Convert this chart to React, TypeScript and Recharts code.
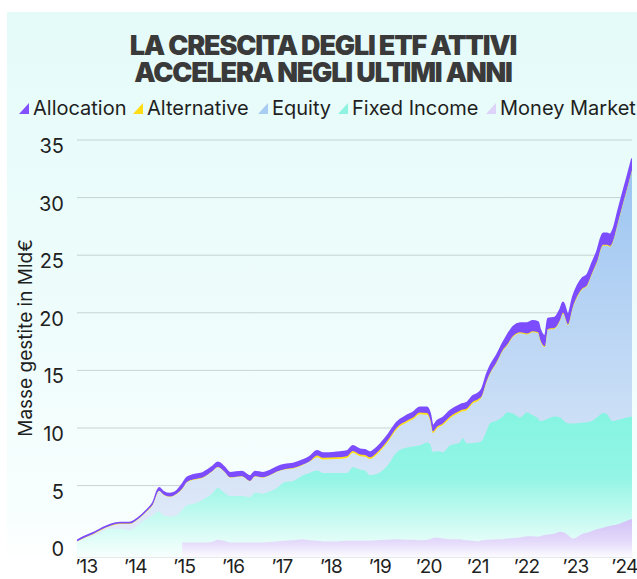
import React from 'react';
import { AreaChart, Area, XAxis, YAxis, CartesianGrid } from 'recharts';

// time in fractional years
const dates = [
  2012.95, 2013.11, 2013.28, 2013.46, 2013.62, 2013.83, 2014.03, 2014.2, 2014.38, 2014.5,
  2014.63, 2014.71, 2014.85, 2014.99, 2015.1, 2015.2, 2015.32, 2015.53, 2015.71, 2015.83,
  2015.96, 2016.08, 2016.32, 2016.49, 2016.59, 2016.75, 2016.9, 2017.04, 2017.2, 2017.37,
  2017.57, 2017.71, 2017.86, 2017.98, 2018.27, 2018.47, 2018.59, 2018.74, 2018.84, 2018.94,
  2019.08, 2019.29, 2019.49, 2019.7, 2019.82, 2019.96, 2020.11, 2020.17, 2020.23, 2020.31,
  2020.43, 2020.58, 2020.78, 2020.84, 2020.92, 2021.05, 2021.15, 2021.23, 2021.33, 2021.39,
  2021.54, 2021.66, 2021.74, 2021.87, 2022.01, 2022.15, 2022.27, 2022.38, 2022.42, 2022.52,
  2022.58, 2022.72, 2022.83, 2022.89, 2022.99, 2023.09, 2023.28, 2023.38, 2023.48, 2023.58,
  2023.71, 2023.79, 2023.85, 2023.91, 2024.01, 2024.11, 2024.2, 2024.3,
];

const moneyMarket: (number | null)[] = [
  null, null, null, null, null, null, null, null, null, null,
  null, null, null, null, 0.05, 0.05, 0.05, 0.05, 0.1, 0.3,
  0.2, 0.05, 0.05, 0.05, 0.05, 0.05, 0.1, 0.15, 0.2, 0.25,
  0.35, 0.25, 0.2, 0.15, 0.15, 0.2, 0.2, 0.2, 0.2, 0.2,
  0.25, 0.3, 0.35, 0.3, 0.3, 0.25, 0.3, 0.35, 0.45, 0.5,
  0.4, 0.35, 0.35, 0.3, 0.25, 0.2, 0.15, 0.25, 0.3, 0.3,
  0.35, 0.35, 0.4, 0.45, 0.5, 0.6, 0.6, 0.55, 0.6, 0.7,
  0.75, 0.85, 1.0, 0.95, 0.7, 0.4, 0.8, 0.9, 1.05, 1.2,
  1.35, 1.45, 1.5, 1.55, 1.65, 1.8, 1.95, 2.1,
];

const fixedIncome = [
  0.12, 0.4, 0.65, 1.0, 1.25, 1.25, 1.1, 1.6, 2.1, 2.4,
  2.75, 2.4, 2.3, 2.4, 2.85, 3.25, 3.35, 3.75, 4.2, 4.5,
  4.2, 4.05, 4.05, 3.95, 4.35, 4.25, 4.4, 4.65, 5.1, 5.15,
  5.55, 5.85, 6.1, 5.95, 5.95, 5.9, 6.4, 6.2, 6.1, 5.7,
  5.75, 6.4, 7.55, 8.0, 8.1, 8.25, 8.45, 8.25, 7.45, 7.5,
  7.5, 8.15, 8.4, 8.8, 8.4, 8.5, 8.6, 8.65, 9.5, 10.1,
  10.3, 10.65, 10.95, 10.8, 10.4, 10.75, 10.5, 10.25, 10.0, 10.0,
  10.05, 10.15, 9.9, 9.75, 9.7, 10.0, 9.65, 9.6, 9.55, 9.7,
  9.95, 9.75, 9.3, 9.05, 9.05, 9.0, 8.95, 8.9,
];

const equity = [
  0, 0.07, 0.12, 0.17, 0.22, 0.42, 0.57, 0.47, 0.67, 0.92,
  1.77, 1.82, 1.72, 1.87, 1.79, 1.99, 2.09, 1.89, 1.89, 1.79,
  1.79, 1.59, 1.69, 1.39, 1.39, 1.39, 1.39, 1.39, 1.09, 1.09,
  0.89, 0.99, 1.17, 1.17, 1.2, 1.3, 1.25, 1.15, 1.2, 1.4,
  1.7, 2.0, 2.0, 2.2, 2.35, 2.7, 2.4, 2.05, 1.65, 1.95,
  2.35, 2.35, 2.6, 2.35, 2.9, 3.45, 3.6, 3.82, 4.22, 4.22,
  5.07, 5.72, 5.77, 6.67, 7.32, 6.77, 7.22, 7.42, 7.02, 6.32,
  7.72, 7.62, 8.42, 9.22, 8.52, 10.02, 11.57, 11.82, 12.72, 13.42,
  14.52, 14.62, 14.92, 15.52, 17.02, 18.52, 19.82, 21.32,
];

const alternative = [
  0.03, 0.03, 0.03, 0.03, 0.03, 0.03, 0.03, 0.03, 0.03, 0.03,
  0.03, 0.03, 0.03, 0.03, 0.03, 0.03, 0.03, 0.03, 0.03, 0.03,
  0.03, 0.03, 0.03, 0.03, 0.03, 0.03, 0.03, 0.03, 0.03, 0.03,
  0.03, 0.03, 0.15, 0.15, 0.15, 0.15, 0.15, 0.15, 0.15, 0.15,
  0.15, 0.15, 0.15, 0.15, 0.15, 0.15, 0.15, 0.15, 0.15, 0.15,
  0.15, 0.15, 0.15, 0.15, 0.15, 0.15, 0.15, 0.08, 0.08, 0.08,
  0.08, 0.08, 0.08, 0.08, 0.08, 0.08, 0.08, 0.08, 0.08, 0.08,
  0.08, 0.08, 0.08, 0.08, 0.08, 0.08, 0.08, 0.08, 0.08, 0.08,
  0.08, 0.08, 0.08, 0.08, 0.08, 0.08, 0.08, 0.08,
];

const allocation = [
  0.1, 0.1, 0.1, 0.1, 0.1, 0.1, 0.1, 0.1, 0.1, 0.15,
  0.25, 0.25, 0.25, 0.25, 0.4, 0.4, 0.4, 0.4, 0.4, 0.4,
  0.4, 0.4, 0.4, 0.4, 0.4, 0.4, 0.4, 0.4, 0.4, 0.4,
  0.4, 0.4, 0.4, 0.4, 0.45, 0.45, 0.45, 0.45, 0.45, 0.45,
  0.45, 0.45, 0.45, 0.45, 0.45, 0.45, 0.5, 0.5, 0.5, 0.5,
  0.5, 0.5, 0.5, 0.5, 0.5, 0.5, 0.5, 0.6, 0.6, 0.6,
  0.6, 0.6, 0.8, 0.8, 0.8, 0.9, 0.9, 0.9, 0.9, 0.9,
  0.9, 0.9, 0.9, 0.9, 0.9, 0.9, 0.9, 0.9, 0.9, 0.9,
  1.0, 1.0, 1.0, 1.0, 1.0, 1.0, 1.0, 1.0,
];

const yearTicks = [2013, 2014, 2015, 2016, 2017, 2018, 2019, 2020, 2021, 2022, 2023, 2024];
const valueTicks = [0, 5, 10, 15, 20, 25, 30, 35];

const legendItems = [
  { name: 'Allocation', color: '#8350ff' },
  { name: 'Alternative', color: '#ffdc14' },
  { name: 'Equity', color: '#a9cdf2' },
  { name: 'Fixed Income', color: '#8ff3e2' },
  { name: 'Money Market', color: '#ddd2f7' },
];
const legendX = [19, 133, 258, 338, 486];

const TITLE_1 = 'LA CRESCITA DEGLI ETF ATTIVI';
const TITLE_2 = 'ACCELERA NEGLI ULTIMI ANNI';
const Y_TITLE = 'Masse gestite in Mld€';

// cumulative table drawn as layered areas down to the plot bottom
const rows = dates.map((t, i) => {
  const mm = moneyMarket[i] ?? 0;
  const fi = mm + fixedIncome[i];
  const eq = fi + equity[i];
  const alt = eq + alternative[i];
  const alloc = alt + allocation[i];
  return {
    t,
    mmTop: moneyMarket[i] === null ? null : mm,
    fiTop: fi,
    eqTop: eq,
    altTop: alt,
    allocTop: alloc,
  };
});

const FONT = 'Inter, "Noto Sans", sans-serif';

const XTick = (props: any) => {
  const { x, y, payload } = props;
  const yy = String(payload.value).slice(2);
  return (
    <text x={x + 7} y={y + 8} textAnchor="middle" fontSize={19} letterSpacing={-0.8} fill="#1f1f1f" fontFamily={FONT}>
      {'\u2019' + yy}
    </text>
  );
};

const YTick = (props: any) => {
  const { x, y, payload } = props;
  return (
    <text x={x} y={y + 13} textAnchor="end" fontSize={20} fill="#1f1f1f" fontFamily={FONT}>
      {payload.value}
    </text>
  );
};

export default function App() {
  return (
    <div style={{ position: 'absolute', left: 0, top: 0, width: 637, height: 579, background: '#ffffff', overflow: 'hidden' }}>
      <div
        style={{
          position: 'absolute',
          left: 7,
          top: 12,
          width: 630,
          height: 552,
          background: 'linear-gradient(180deg, #e5fbf9 0%, #effdfc 60%, #f8fefe 92%, #ffffff 100%)',
        }}
      />
      <div
        style={{
          position: 'absolute',
          left: 0,
          top: 32,
          width: 646,
          lineHeight: '27px',
          textAlign: 'center',
          fontFamily: FONT,
          fontWeight: 900,
          fontSize: 27,
          letterSpacing: -1.2,
          color: '#3a3a3a',
          whiteSpace: 'nowrap',
        }}
      >
        {TITLE_1}
        <br />
        {TITLE_2}
      </div>
      <div style={{ position: 'absolute', left: 0, top: 0 }}>
        <AreaChart width={637} height={579} data={rows} margin={{ top: 140, right: 5, bottom: 0, left: 17 }}>
          <defs>
            <linearGradient id="gEq" x1="0" y1="0" x2="0" y2="1">
              <stop offset="0%" stopColor="#9cc5f1" />
              <stop offset="100%" stopColor="#e6edf9" />
            </linearGradient>
            <linearGradient id="gFi" x1="0" y1="0" x2="0" y2="1">
              <stop offset="0%" stopColor="#86f4e2" />
              <stop offset="45%" stopColor="#93f5e5" />
              <stop offset="100%" stopColor="#f7fffd" />
            </linearGradient>
            <linearGradient id="gMm" x1="0" y1="0" x2="0" y2="1">
              <stop offset="0%" stopColor="#d2c1f7" />
              <stop offset="60%" stopColor="#e4dafa" />
              <stop offset="100%" stopColor="#fcfbff" />
            </linearGradient>
          </defs>
          <XAxis
            dataKey="t"
            type="number"
            domain={[2012.95, 2024.3]}
            ticks={yearTicks}
            tick={<XTick />}
            axisLine={false}
            tickLine={false}
            height={22}
            allowDataOverflow
            interval={0}
          />
          <YAxis
            type="number"
            domain={[-1.2, 35]}
            ticks={valueTicks}
            tick={<YTick />}
            axisLine={false}
            tickLine={false}
            tickSize={0}
            tickMargin={13}
            width={60}
            allowDataOverflow
            interval={0}
          />
          <Area
            type="monotone"
            dataKey="allocTop"
            baseValue="dataMin"
            stroke="#7c4dff"
            strokeWidth={1.6}
            fill="#7c4dff"
            fillOpacity={1}
            isAnimationActive={false}
            dot={false}
            activeDot={false}
          />
          <Area
            type="monotone"
            dataKey="altTop"
            baseValue="dataMin"
            stroke="none"
            fill="#ffe014"
            fillOpacity={1}
            isAnimationActive={false}
            dot={false}
            activeDot={false}
          />
          <Area
            type="monotone"
            dataKey="eqTop"
            baseValue="dataMin"
            stroke="none"
            fill="url(#gEq)"
            fillOpacity={1}
            isAnimationActive={false}
            dot={false}
            activeDot={false}
          />
          <Area
            type="monotone"
            dataKey="fiTop"
            baseValue="dataMin"
            stroke="none"
            fill="url(#gFi)"
            fillOpacity={1}
            isAnimationActive={false}
            dot={false}
            activeDot={false}
          />
          <Area
            type="monotone"
            dataKey="mmTop"
            baseValue="dataMin"
            stroke="none"
            fill="url(#gMm)"
            fillOpacity={1}
            isAnimationActive={false}
            dot={false}
            activeDot={false}
          />
          <CartesianGrid vertical={false} stroke="#8f9c9c" strokeOpacity={0.42} />
        </AreaChart>
      </div>
      <svg width={637} height={579} style={{ position: 'absolute', left: 0, top: 0, pointerEvents: 'none' }}>
        {legendItems.map((it, i) => {
          const x0 = legendX[i];
          return (
            <g key={it.name}>
              <polygon points={`${x0},114 ${x0 + 10},114 ${x0 + 10},103`} fill={it.color} />
              <text x={x0 + 14} y={115} fontFamily={FONT} fontSize={20} fill="#1f1f1f">
                {it.name}
              </text>
            </g>
          );
        })}
        <text transform="translate(32, 338) rotate(-90)" textAnchor="middle" fontFamily={FONT} fontSize={19} fill="#1f1f1f">
          {Y_TITLE}
        </text>
      </svg>
    </div>
  );
}
